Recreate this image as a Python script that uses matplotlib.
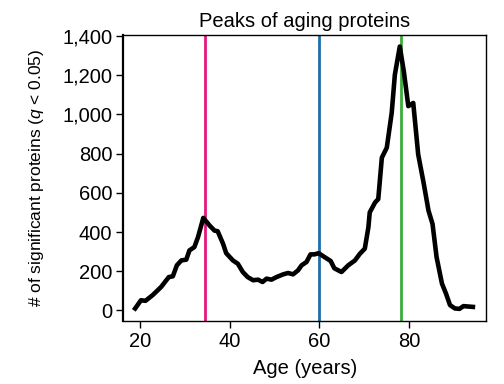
import numpy as np
from matplotlib import pyplot as plt

plt.rcParams['font.family'] = ['Liberation Sans', 'DejaVu Sans']
plt.rcParams['mathtext.fontset'] = 'custom'
plt.rcParams['mathtext.it'] = 'Liberation Sans:italic'
plt.rcParams['mathtext.rm'] = 'Liberation Sans'

# curve
age = [18.9, 20.2, 21.2, 22.8, 24.7, 26.4, 27.3, 28.2, 29.2, 30.3, 31.0, 32.1, 32.9, 34.1,
       35.5, 36.6, 37.3, 38.5, 39.2, 40.7, 41.8, 42.9, 44.0, 45.2, 46.3, 47.3, 48.2, 49.3,
       50.4, 51.9, 53.0, 54.1, 55.2, 56.0, 57.1, 58.0, 58.9, 59.8, 61.4, 62.5, 63.3, 64.9,
       66.4, 67.9, 69.0, 70.1, 70.9, 71.2, 72.4, 73.1, 73.9, 75.0, 76.1, 76.8, 77.9, 78.8,
       79.8, 80.9, 82.0, 83.2, 84.3, 85.2, 86.1, 87.3, 88.2, 89.1, 90.2, 91.2, 92.1, 94.2]
n_prot = [10, 52, 49, 78, 120, 170, 174, 230, 255, 259, 306, 323, 373, 472,
          433, 407, 404, 340, 292, 255, 238, 196, 170, 154, 157, 145, 162, 157,
          170, 184, 191, 184, 204, 230, 247, 286, 286, 292, 268, 252, 215, 196,
          230, 255, 289, 315, 424, 500, 551, 568, 779, 830, 1008, 1202, 1346, 1219,
          1042, 1058, 796, 652, 509, 441, 272, 137, 86, 27, 10, 8, 22, 18]

peak_ages = [34.4, 59.8, 78.1]
peak_colors = ['#e3177d', '#1f6ea8', '#3bab3a']

fig, ax = plt.subplots(figsize=(5.04, 3.84), dpi=100)
fig.subplots_adjust(left=0.245, right=0.965, top=0.909, bottom=0.164)

for a, c in zip(peak_ages, peak_colors):
    ax.axvline(a, color=c, lw=2.0, zorder=1)
ax.plot(age, n_prot, color='black', lw=3.3, zorder=3)

ax.set_xlim(16.3, 97.2)
ax.set_ylim(-54, 1405)
ax.set_xticks([20, 40, 60, 80])
ax.set_yticks(np.arange(0, 1401, 200))
ax.set_yticklabels([f'{v:,}' for v in range(0, 1401, 200)])
ax.tick_params(labelsize=14.5, length=5, width=1, pad=3)

ax.set_xlabel('Age (years)', fontsize=14.5, labelpad=6)
ax.set_ylabel('# of significant proteins ($q$ < 0.05)', fontsize=12.5, labelpad=12)
ax.set_title('Peaks of aging proteins', fontsize=14.5, pad=6)

for s in ax.spines.values():
    s.set_linewidth(1.0)
ax.spines['left'].set_linewidth(1.6)

fig.savefig('out.png', dpi=100)
